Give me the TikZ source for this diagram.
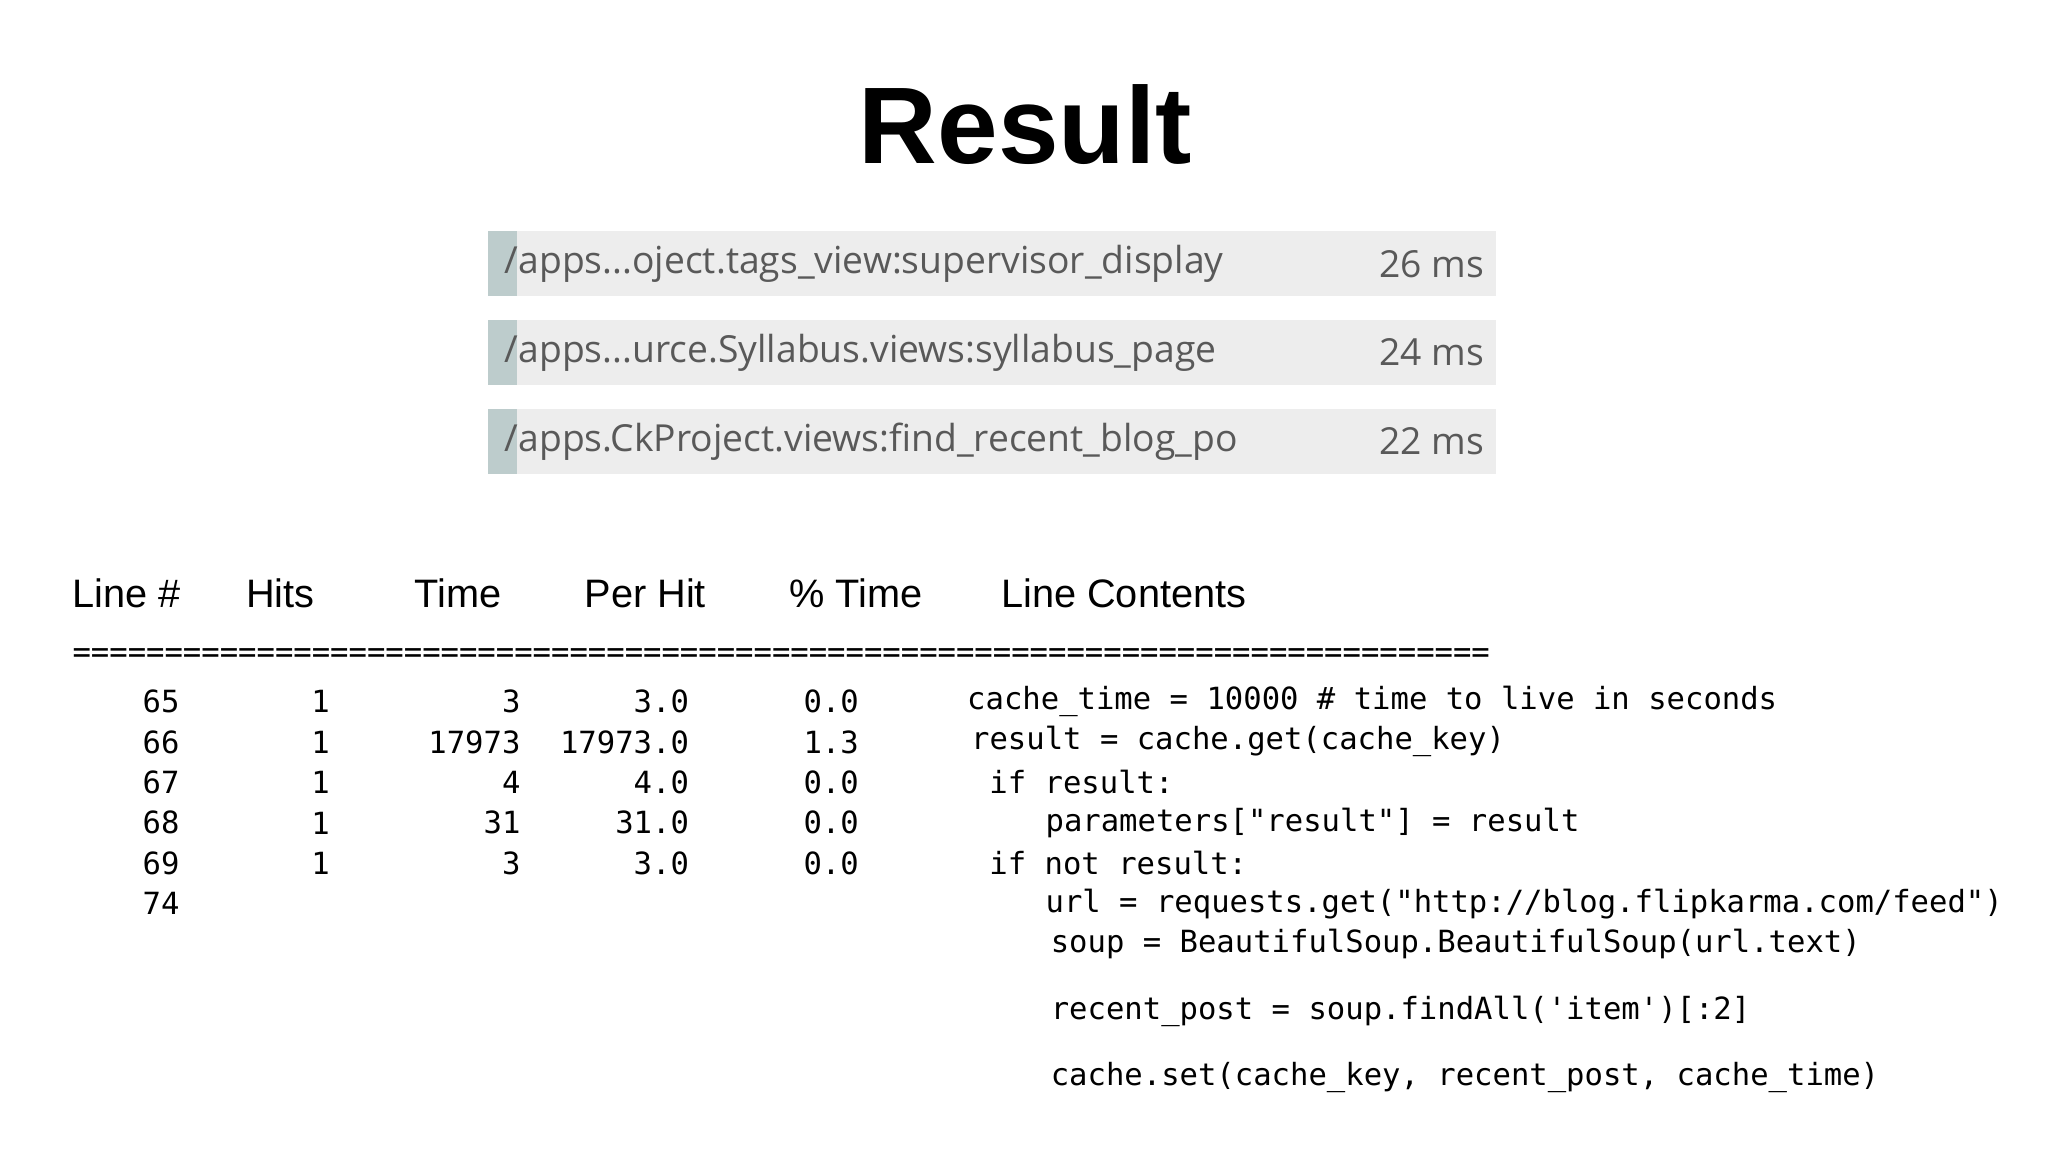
\documentclass[tikz,border=0pt]{standalone}
\usepackage{fontspec}
\setmainfont{Liberation Sans}
\setmonofont{DejaVu Sans Mono}
\newfontfamily\barfont{Open Sans}
\begin{document}
\begin{tikzpicture}[x=0.01306cm,y=-0.01306cm,
  bar/.style={fill=gray!14,draw=none},
  strip/.style={fill=teal!30!gray!40,draw=none},
  bartxt/.style={anchor=west,inner sep=0,text=black!65,font=\barfont\fontsize{10.6}{12}\selectfont},
  bartime/.style={anchor=east,inner sep=0,text=black!65,font=\barfont\fontsize{10.6}{12}\selectfont},
  hdr/.style={anchor=west,inner sep=0,font=\fontsize{11.3}{13}\selectfont},
  num/.style={anchor=east,inner sep=0,font=\ttfamily\fontsize{8.7}{10}\selectfont},
  code/.style={anchor=west,inner sep=0,font=\ttfamily\fontsize{8.7}{10}\selectfont}]
\useasboundingbox (0,0) rectangle (1568,882);
\node[inner sep=0,font=\bfseries\fontsize{31}{36}\selectfont] (title) at (785,95) {Result};
% bars
\foreach \y/\t/\m [count=\i] in {177/{/apps...oject.tags\_view:supervisor\_display}/26,245/{/apps...urce.Syllabus.views:syllabus\_page}/24,313/{/apps.CkProject.views:find\_recent\_blog\_po}/22}{
  \fill[bar] (374,\y) rectangle (1145,\y+50);
  \fill[strip] (374,\y) rectangle (396,\y+50);
  \node[bartxt] (b\i) at (386,\y+25) {\t};
  \node[bartime] (bt\i) at (1137,\y+25) {\m\ ms};
}
% header
\node[hdr] (h1) at (55,454) {Line \#};
\node[hdr] (h2) at (188,454) {Hits};
\node[hdr] (h3) at (317,454) {Time};
\node[hdr] (h4) at (447,454) {Per Hit};
\node[hdr] (h5) at (604,454) {\% Time};
\node[hdr] (h6) at (766,454) {Line Contents};
\node[anchor=west,inner sep=0,font=\ttfamily\fontsize{8.7}{10}\selectfont] (eq) at (55,502) {=============================================================================};
% rows
\foreach \y/\a/\b/\c/\d/\e in {537/65/1/3/3.0/0.0,568/66/1/17973/17973.0/1.3,599/67/1/4/4.0/0.0,630/68/1/31/31.0/0.0,661/69/1/3/3.0/0.0,692/74////}{
  \node[num] at (138,\y) {\a};
  \node[num] at (253,\y) {\b};
  \node[num] at (399,\y) {\c};
  \node[num] at (528,\y) {\d};
  \node[num] at (658,\y) {\e};
}
\node[code] (c1) at (740,537) {cache\_time = 10000  \# time to live in seconds};
\node[code] (c2) at (743,568) {result = cache.get(cache\_key)};
\node[code] (c3) at (757,599) {if result:};
\node[code] (c4) at (800,630) {parameters["result"] = result};
\node[code] (c5) at (757,661) {if not result:};
\node[code] (c6) at (800,692) {url = requests.get("http://blog.flipkarma.com/feed")};
\node[code] (c7) at (804,723) {soup = BeautifulSoup.BeautifulSoup(url.text)};
\node[code] (c8) at (804,774) {recent\_post = soup.findAll('item')[:2]};
\node[code] (c9) at (804,825) {cache.set(cache\_key, recent\_post, cache\_time)};
\end{tikzpicture}
\end{document}
